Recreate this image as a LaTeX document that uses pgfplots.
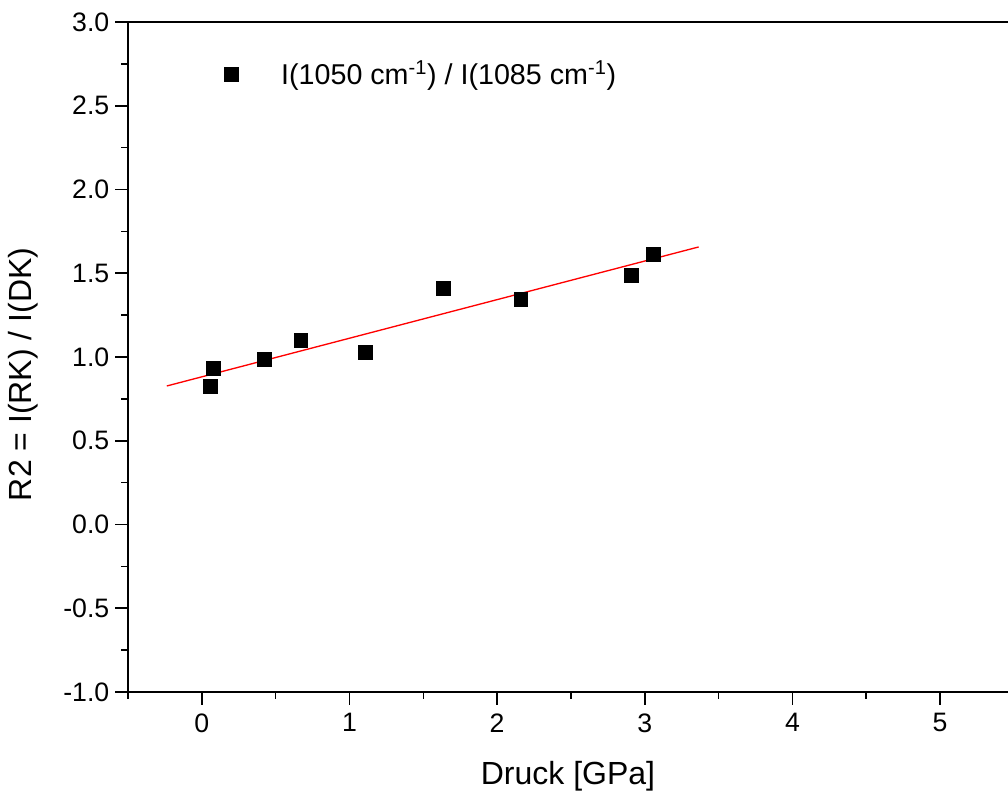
\documentclass[border=0pt]{standalone}
\usepackage{pgfplots}
\pgfplotsset{compat=1.18}
\usepackage{fontspec}
\setmainfont{Liberation Sans}
\begin{document}
\begin{tikzpicture}
\begin{axis}[
  name=ax,
  scale only axis,
  width=660pt, height=502.5pt,
  xmin=-0.5, xmax=5.46,
  ymin=-1, ymax=3,
  axis lines*=left,
  axis line style={line width=1.2pt},
  xtick={0,1,2,3,4,5},
  minor xtick={-0.5,0.5,1.5,2.5,3.5,4.5},
  ytick={-1,-0.5,0,0.5,1,1.5,2,2.5,3},
  minor ytick={-0.75,-0.25,0.25,0.75,1.25,1.75,2.25,2.75},
  yticklabel style={xshift=-1pt,/pgf/number format/.cd,fixed,fixed zerofill,precision=1},
  /pgf/number format/assume math mode=true,
  tick align=outside,
  major tick length=9.5pt,
  minor tick length=5pt,
  every tick/.style={black,line width=1.2pt},
  tick label style={font=\fontsize{20}{24}\selectfont},
  xticklabel style={yshift=-3pt},
  label style={font=\fontsize{24}{28}\selectfont},
  xlabel={Druck [GPa]},
  ylabel={R2 = I(RK) / I(DK)},
  xlabel style={yshift=-15pt},
  ylabel style={yshift=12pt, xshift=-13pt},
  legend style={draw=none, fill=none, at={(0.105,0.95)}, anchor=north west, font=\fontsize{21.5}{26}\selectfont},
  legend cell align=left,
  clip=false,
]
\addplot[only marks, mark=square*, mark size=5.2pt, black] coordinates {
  (0.055,0.827) (0.08,0.934) (0.42,0.988) (0.67,1.10) (1.106,1.03)
  (1.635,1.41) (2.16,1.346) (2.91,1.49) (3.06,1.615)
};
\addlegendentry{\hspace{30pt}I(1050 cm\textsuperscript{-1}) / I(1085 cm\textsuperscript{-1})}
\addplot[red, line width=1pt, forget plot] coordinates {(-0.237,0.827) (3.365,1.657)};
\draw[line width=1.2pt] (rel axis cs:0,1) -- (rel axis cs:1,1);
\end{axis}
\pgfresetboundingbox
\path ([xshift=-96pt,yshift=-76.5pt]ax.south west) rectangle ([yshift=16.5pt]ax.north east);
\end{tikzpicture}
\end{document}
